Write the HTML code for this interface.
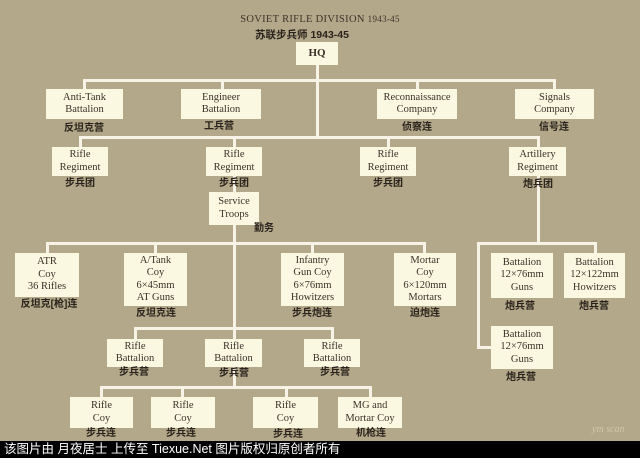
<!DOCTYPE html>
<html><head><meta charset="utf-8"><style>
html,body{margin:0;padding:0}
body{width:640px;height:458px;position:relative;overflow:hidden;background:#b3a889;font-family:"Liberation Serif","Noto Serif CJK SC",serif}
.l{position:absolute;background:#f7f3e6}
.b{position:absolute;background:#fbf8e2;color:#3a3128;font-size:10.5px;line-height:12.5px;text-align:center;display:flex;flex-direction:column;justify-content:center;box-sizing:border-box}
.c{position:absolute;font-family:"Liberation Sans","Noto Sans CJK SC",sans-serif;font-size:10px;color:#2a221c;font-weight:bold;white-space:nowrap;transform:translateX(-50%)}
</style></head><body>
<div style="position:absolute;left:0;top:14px;width:640px;text-align:center;font-size:10.5px;color:#3e342b;letter-spacing:0.3px">SOVIET RIFLE DIVISION <span style="font-size:9px">1943-45</span></div>
<div class="c" style="left:302px;top:27px;font-size:10.5px">苏联步兵师 1943-45</div>

<!-- lines -->
<div class="l" style="left:316px;top:64px;width:3px;height:74px"></div>
<div class="l" style="left:84px;top:79px;width:472px;height:3px"></div>
<div class="l" style="left:83px;top:79px;width:3px;height:11px"></div>
<div class="l" style="left:221px;top:79px;width:3px;height:11px"></div>
<div class="l" style="left:416px;top:79px;width:3px;height:11px"></div>
<div class="l" style="left:553px;top:79px;width:3px;height:11px"></div>
<div class="l" style="left:79px;top:136px;width:461px;height:3px"></div>
<div class="l" style="left:79px;top:136px;width:3px;height:12px"></div>
<div class="l" style="left:233px;top:136px;width:3px;height:12px"></div>
<div class="l" style="left:387px;top:136px;width:3px;height:12px"></div>
<div class="l" style="left:537px;top:136px;width:3px;height:12px"></div>
<div class="l" style="left:233px;top:175px;width:3px;height:213px"></div>
<div class="l" style="left:46px;top:242px;width:380px;height:3px"></div>
<div class="l" style="left:46px;top:242px;width:3px;height:12px"></div>
<div class="l" style="left:154px;top:242px;width:3px;height:12px"></div>
<div class="l" style="left:311px;top:242px;width:3px;height:12px"></div>
<div class="l" style="left:423px;top:242px;width:3px;height:12px"></div>
<div class="l" style="left:537px;top:175px;width:3px;height:70px"></div>
<div class="l" style="left:477px;top:242px;width:119px;height:3px"></div>
<div class="l" style="left:477px;top:242px;width:3px;height:106px"></div>
<div class="l" style="left:594px;top:242px;width:3px;height:12px"></div>
<div class="l" style="left:477px;top:346px;width:15px;height:3px"></div>
<div class="l" style="left:134px;top:327px;width:200px;height:3px"></div>
<div class="l" style="left:134px;top:327px;width:3px;height:12px"></div>
<div class="l" style="left:331px;top:327px;width:3px;height:12px"></div>
<div class="l" style="left:100px;top:386px;width:272px;height:3px"></div>
<div class="l" style="left:100px;top:386px;width:3px;height:11px"></div>
<div class="l" style="left:181px;top:386px;width:3px;height:11px"></div>
<div class="l" style="left:285px;top:386px;width:3px;height:11px"></div>
<div class="l" style="left:369px;top:386px;width:3px;height:11px"></div>

<div class="b" style="left:296px;top:42px;width:42px;height:23px;font-weight:bold;font-size:11px">HQ</div>

<div class="b" style="left:46px;top:89px;width:77px;height:30px">Anti-Tank<br>Battalion</div>
<div class="b" style="left:181px;top:89px;width:80px;height:30px">Engineer<br>Battalion</div>
<div class="b" style="left:377px;top:89px;width:80px;height:30px">Reconnaissance<br>Company</div>
<div class="b" style="left:515px;top:89px;width:79px;height:30px">Signals<br>Company</div>
<div class="c" style="left:84px;top:119px">反坦克营</div>
<div class="c" style="left:219px;top:117px">工兵营</div>
<div class="c" style="left:417px;top:118px">侦察连</div>
<div class="c" style="left:554px;top:118px">信号连</div>

<div class="b" style="left:52px;top:147px;width:56px;height:29px">Rifle<br>Regiment</div>
<div class="b" style="left:206px;top:147px;width:56px;height:29px">Rifle<br>Regiment</div>
<div class="b" style="left:360px;top:147px;width:56px;height:29px">Rifle<br>Regiment</div>
<div class="b" style="left:509px;top:147px;width:57px;height:29px">Artillery<br>Regiment</div>
<div class="c" style="left:80px;top:174px">步兵团</div>
<div class="c" style="left:234px;top:174px">步兵团</div>
<div class="c" style="left:388px;top:174px">步兵团</div>
<div class="c" style="left:538px;top:175px">炮兵团</div>

<div class="b" style="left:209px;top:192px;width:50px;height:33px">Service<br>Troops</div>
<div class="c" style="left:264px;top:219px">勤务</div>

<div class="b" style="left:15px;top:253px;width:64px;height:44px">ATR<br>Coy<br>36 Rifles</div>
<div class="b" style="left:124px;top:253px;width:63px;height:53px">A/Tank<br>Coy<br>6×45mm<br>AT Guns</div>
<div class="b" style="left:281px;top:253px;width:63px;height:53px">Infantry<br>Gun Coy<br>6×76mm<br>Howitzers</div>
<div class="b" style="left:394px;top:253px;width:62px;height:53px">Mortar<br>Coy<br>6×120mm<br>Mortars</div>
<div class="b" style="left:491px;top:253px;width:62px;height:45px">Battalion<br>12×76mm<br>Guns</div>
<div class="b" style="left:564px;top:253px;width:61px;height:45px">Battalion<br>12×122mm<br>Howitzers</div>
<div class="c" style="left:49px;top:295px">反坦克[枪]连</div>
<div class="c" style="left:156px;top:304px">反坦克连</div>
<div class="c" style="left:312px;top:304px">步兵炮连</div>
<div class="c" style="left:425px;top:304px">迫炮连</div>
<div class="c" style="left:520px;top:297px">炮兵营</div>
<div class="c" style="left:594px;top:297px">炮兵营</div>

<div class="b" style="left:491px;top:326px;width:62px;height:43px">Battalion<br>12×76mm<br>Guns</div>
<div class="c" style="left:521px;top:368px">炮兵营</div>

<div class="b" style="left:107px;top:339px;width:56px;height:28px">Rifle<br>Battalion</div>
<div class="b" style="left:205px;top:339px;width:57px;height:28px">Rifle<br>Battalion</div>
<div class="b" style="left:304px;top:339px;width:56px;height:28px">Rifle<br>Battalion</div>
<div class="c" style="left:134px;top:363px">步兵营</div>
<div class="c" style="left:234px;top:364px">步兵营</div>
<div class="c" style="left:335px;top:363px">步兵营</div>

<div class="b" style="left:70px;top:397px;width:63px;height:31px">Rifle<br>Coy</div>
<div class="b" style="left:151px;top:397px;width:64px;height:31px">Rifle<br>Coy</div>
<div class="b" style="left:253px;top:397px;width:65px;height:31px">Rifle<br>Coy</div>
<div class="b" style="left:338px;top:397px;width:64px;height:31px">MG and<br>Mortar Coy</div>
<div class="c" style="left:101px;top:424px">步兵连</div>
<div class="c" style="left:181px;top:424px">步兵连</div>
<div class="c" style="left:288px;top:425px">步兵连</div>
<div class="c" style="left:371px;top:424px">机枪连</div>

<div style="position:absolute;left:592px;top:424px;font-size:10px;color:#cfc6ad;font-style:italic">ym scan</div>
<div style="position:absolute;left:0;top:441px;width:640px;height:17px;background:#000"></div>
<div style="position:absolute;left:4px;top:442px;color:#fff;font-family:'Liberation Sans','Noto Sans CJK SC',sans-serif;font-size:12.5px;line-height:15px;white-space:nowrap">该图片由 月夜居士 上传至 Tiexue.Net 图片版权归原创者所有</div>
</body></html>
